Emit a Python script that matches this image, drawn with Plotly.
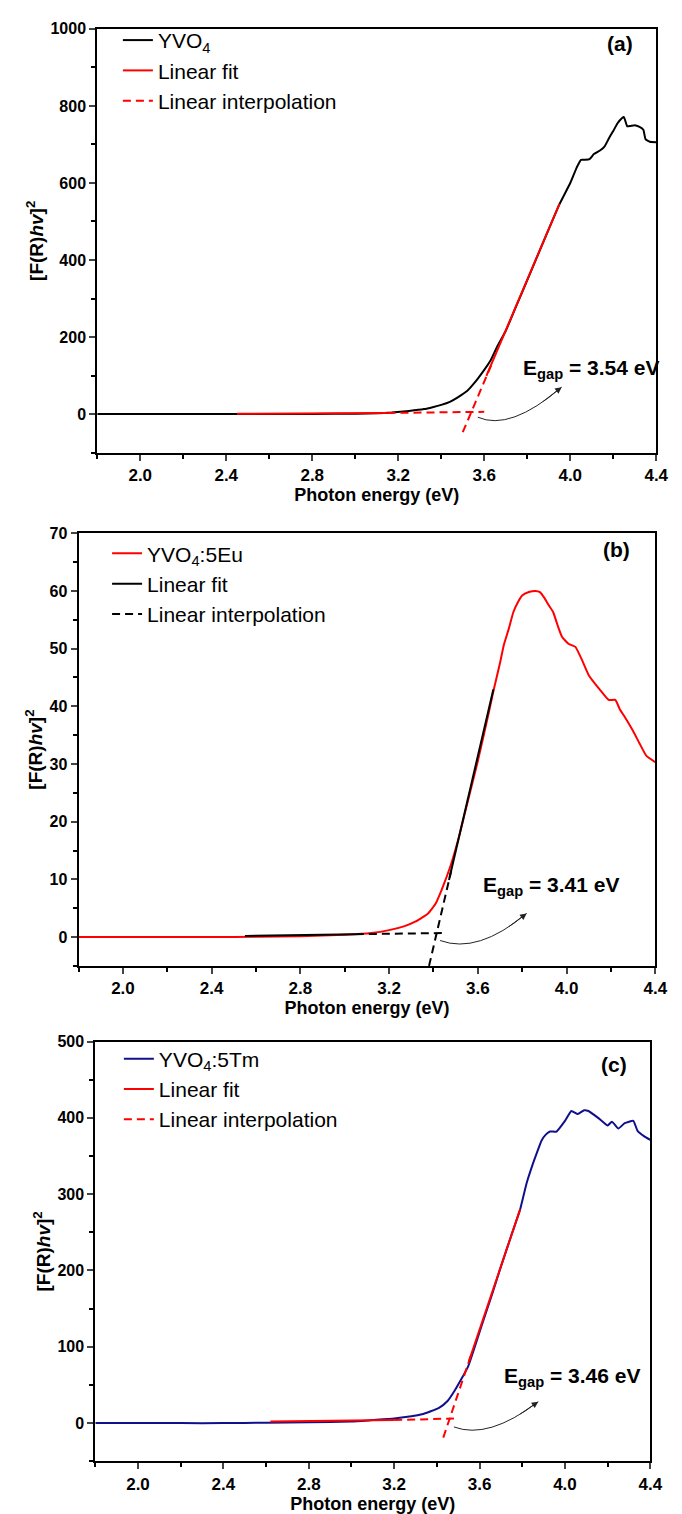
import plotly.graph_objects as go

# ---------------- data ----------------
# Panel (a) YVO4
a_x = [1.8, 2.0, 2.2, 2.4, 2.6, 2.8, 3.0, 3.1, 3.17, 3.25, 3.32, 3.36, 3.40, 3.44, 3.475, 3.52, 3.56, 3.60,
       3.63, 3.66, 3.70, 3.75, 3.80, 3.85, 3.90, 3.95, 4.00, 4.03, 4.05, 4.07, 4.09, 4.11, 4.14, 4.16, 4.18,
       4.20, 4.22, 4.24, 4.25, 4.265, 4.28, 4.30, 4.32, 4.34, 4.35, 4.37, 4.40]
a_y = [0, 0, 0, 0, 0, 0.5, 1, 2, 4, 8, 13, 18, 24, 32, 43, 60, 85, 115,
       140, 175, 216, 282, 348, 414, 480, 545, 600, 640, 660, 660, 662, 675, 685, 695, 716,
       735, 755, 768, 771, 747, 748, 750, 746, 738, 714, 707, 706]
a_fit_x = [2.45, 3.15, None, 3.61, 3.95]
a_fit_y = [1, 3, None, 99, 546]
a_int_x = [3.15, 3.60, None, 3.50, 3.64]
a_int_y = [3, 6, None, -47, 137]
a_egap = 3.54

# Panel (b) YVO4:5Eu
b_x = [1.8, 2.0, 2.2, 2.4, 2.6, 2.8, 3.0, 3.12, 3.2, 3.27, 3.32, 3.376, 3.41, 3.436, 3.46, 3.48,
       3.515, 3.554, 3.60, 3.65, 3.67, 3.70, 3.717, 3.74, 3.76, 3.78, 3.80, 3.83, 3.86, 3.88, 3.90,
       3.92, 3.94, 3.96, 3.98, 4.01, 4.04, 4.07, 4.10, 4.15, 4.19, 4.22, 4.24, 4.26, 4.30, 4.33,
       4.36, 4.40]
b_y = [0, 0, 0, 0, 0.05, 0.15, 0.4, 0.7, 1.2, 1.9, 2.7, 4.1, 5.8, 8.1, 10.5, 12.7,
       17.4, 23.4, 30.5, 39.0, 42.6, 47.5, 50.6, 53.5, 56.3, 58.0, 59.2, 59.8, 60.0, 59.8, 58.8,
       57.5, 56.3, 54.0, 52.0, 50.8, 50.3, 48.0, 45.4, 42.9, 41.1, 41.1, 39.5, 38.3, 35.7, 33.5,
       31.4, 30.3]
b_fit_x = [2.55, 3.05, None, 3.47, 3.67]
b_fit_y = [0.2, 0.5, None, 9.9, 42.9]
b_int_x = [3.05, 3.44, None, 3.38, 3.48]
b_int_y = [0.5, 0.7, None, -5.0, 11.5]
b_egap = 3.41

# Panel (c) YVO4:5Tm
c_x = [1.8, 2.0, 2.2, 2.4, 2.6, 2.8, 3.0, 3.10, 3.20, 3.33, 3.41, 3.45, 3.48, 3.546, 3.61, 3.66,
       3.70, 3.75, 3.79, 3.82, 3.85, 3.867, 3.89, 3.91, 3.93, 3.96, 4.00, 4.03, 4.06, 4.09, 4.11,
       4.16, 4.20, 4.22, 4.25, 4.28, 4.32, 4.34, 4.37, 4.40]
c_y = [0, 0, 0, 0, 0.5, 1, 2, 4, 6, 11.5, 20, 29, 41, 74, 128, 170,
       205, 247, 280, 314, 340, 353, 370, 378, 382, 382, 396, 409, 405, 410, 409,
       399, 390, 395, 386, 393, 396, 383, 376, 371]
c_fit_x = [2.62, 3.20, None, 3.55, 3.79]
c_fit_y = [2, 4, None, 81, 280]
c_int_x = [3.20, 3.48, None, 3.43, 3.56]
c_int_y = [4, 6, None, -19, 89]
c_egap = 3.46

x_ticks = [2.0, 2.4, 2.8, 3.2, 3.6, 4.0, 4.4]
x_tick_labels = ["2.0", "2.4", "2.8", "3.2", "3.6", "4.0", "4.4"]
x_minor = [1.8, 2.2, 2.6, 3.0, 3.4, 3.8, 4.2]

# arrows: start, control, end  (data coords)
a_arrow = [(3.57, -8), (3.72, -45), (3.96, 70)]
b_arrow = [(3.43, -0.6), (3.60, -3.0), (3.82, 4.1)]
c_arrow = [(3.48, -5), (3.64, -22), (3.875, 28)]

# ---------------- figure ----------------
FONT = "Liberation Sans, Arial, sans-serif"
fig = go.Figure()

panels = [
    dict(sfx="", xs=a_x, ys=a_y, col="black", name="YVO<sub>4</sub>",
         fx=a_fit_x, fy=a_fit_y, ix=a_int_x, iy=a_int_y, lc="red",
         leg="legend", egap=a_egap, arrow=a_arrow),
    dict(sfx="2", xs=b_x, ys=b_y, col="red", name="YVO<sub>4</sub>:5Eu",
         fx=b_fit_x, fy=b_fit_y, ix=b_int_x, iy=b_int_y, lc="black",
         leg="legend2", egap=b_egap, arrow=b_arrow),
    dict(sfx="3", xs=c_x, ys=c_y, col="#10108a", name="YVO<sub>4</sub>:5Tm",
         fx=c_fit_x, fy=c_fit_y, ix=c_int_x, iy=c_int_y, lc="red",
         leg="legend3", egap=c_egap, arrow=c_arrow),
]

for p in panels:
    xa, ya = "x" + p["sfx"], "y" + p["sfx"]
    fig.add_trace(go.Scatter(x=p["xs"], y=p["ys"], mode="lines", name=p["name"],
                             line=dict(color=p["col"], width=2, shape="spline", smoothing=0.4),
                             xaxis=xa, yaxis=ya, legend=p["leg"]))
    fig.add_trace(go.Scatter(x=p["fx"], y=p["fy"], mode="lines", name="Linear fit",
                             line=dict(color=p["lc"], width=2), xaxis=xa, yaxis=ya,
                             legend=p["leg"], connectgaps=False))
    fig.add_trace(go.Scatter(x=p["ix"], y=p["iy"], mode="lines", name="Linear interpolation",
                             line=dict(color=p["lc"], width=2, dash="8px,5px"), xaxis=xa, yaxis=ya,
                             legend=p["leg"], connectgaps=False))

# domains
dom = {
    "": dict(x=[99/682, 668/682], y=[1-447/1514, 1-21/1514], yr=[-100, 1000], ydt=200, ymin=100,
             lab="(a)", lx=0.935, ly=0.965, legx=120/682, legy=1-12/1514, tx=3.77, ty=118),
    "2": dict(x=[80/682, 667/682], y=[1-963/1514, 1-528/1514], yr=[-5, 70], ydt=10, ymin=5,
              lab="(b)", lx=0.933, ly=0.962, legx=109/682, legy=1-528/1514, tx=3.615, ty=8.8),
    "3": dict(x=[97/682, 662/682], y=[1-1461/1514, 1-1039/1514], yr=[-50, 500], ydt=100, ymin=50,
              lab="(c)", lx=0.934, ly=0.946, legx=121/682, legy=1-1036/1514, tx=3.705, ty=60),
}

layout = dict(width=682, height=1514, margin=dict(l=0, r=0, t=0, b=0),
              paper_bgcolor="white", plot_bgcolor="white",
              font=dict(family=FONT, color="black"), showlegend=True)

annotations = []
shapes = []
for p in panels:
    s = p["sfx"]
    d = dom[s]
    anchor_x = "y" + s
    anchor_y = "x" + s
    layout["xaxis" + s] = dict(
        domain=d["x"], anchor=anchor_x, range=[1.8, 4.4], tickmode="array",
        tickvals=x_ticks, ticktext=x_tick_labels, ticks="outside", ticklen=6, tickwidth=1.5,
        showline=True, linewidth=2, linecolor="black", mirror=True, showgrid=False, zeroline=False,
        tickfont=dict(size=17, family=FONT, weight="bold"),
        minor=dict(tickvals=x_minor, ticks="outside", ticklen=4, tickwidth=1.5, tickcolor="black"),
        title=dict(text="Photon energy (eV)", font=dict(size=18, family=FONT, weight="bold"), standoff=2),
    )
    layout["yaxis" + s] = dict(
        domain=d["y"], anchor=anchor_y, range=d["yr"], dtick=d["ydt"], tick0=0,
        ticks="outside", ticklen=6, tickwidth=1.5,
        showline=True, linewidth=2, linecolor="black", mirror=True, showgrid=False, zeroline=False,
        tickfont=dict(size=16, family=FONT, weight="bold"),
        minor=dict(dtick=d["ymin"], tick0=0, ticks="outside", ticklen=4, tickwidth=1.5, tickcolor="black"),
        title=dict(text="[F(R)<i>hv</i>]<sup>2</sup>", font=dict(size=19, family=FONT, weight="bold"),
                   standoff=2),
    )
    leg_name = p["leg"]
    layout[leg_name] = dict(x=d["legx"], y=d["legy"], xanchor="left", yanchor="top",
                            bgcolor="rgba(0,0,0,0)", font=dict(size=21, family=FONT),
                            tracegroupgap=0, itemwidth=30)
    # panel label
    annotations.append(dict(text="<b>" + d["lab"] + "</b>", xref="x" + s + " domain", yref="y" + s + " domain",
                            x=d["lx"], y=d["ly"], xanchor="center", yanchor="middle",
                            showarrow=False, font=dict(size=21, family=FONT)))
    # Egap text
    annotations.append(dict(text="E<sub>gap</sub> = %.2f eV" % p["egap"], xref="x" + s, yref="y" + s,
                            x=d["tx"], y=d["ty"], xanchor="left", yanchor="middle", showarrow=False,
                            font=dict(size=21, family=FONT, weight="bold")))
    # curved arrow
    (x0, y0), (cx, cy), (x1, y1) = p["arrow"]
    shapes.append(dict(type="path", xref="x" + s, yref="y" + s,
                       path=f"M {x0},{y0} Q {cx},{cy} {x1},{y1}",
                       line=dict(color="#222222", width=1)))
    t = 0.8
    bx = (1-t)**2*x0 + 2*t*(1-t)*cx + t**2*x1
    by = (1-t)**2*y0 + 2*t*(1-t)*cy + t**2*y1
    annotations.append(dict(x=x1, y=y1, ax=bx, ay=by, xref="x" + s, yref="y" + s,
                            axref="x" + s, ayref="y" + s, text="", showarrow=True,
                            arrowhead=2, arrowsize=1.3, arrowwidth=1, arrowcolor="#222222"))

layout["annotations"] = annotations
layout["shapes"] = shapes
fig.update_layout(**layout)
fig.write_html("out.html")
